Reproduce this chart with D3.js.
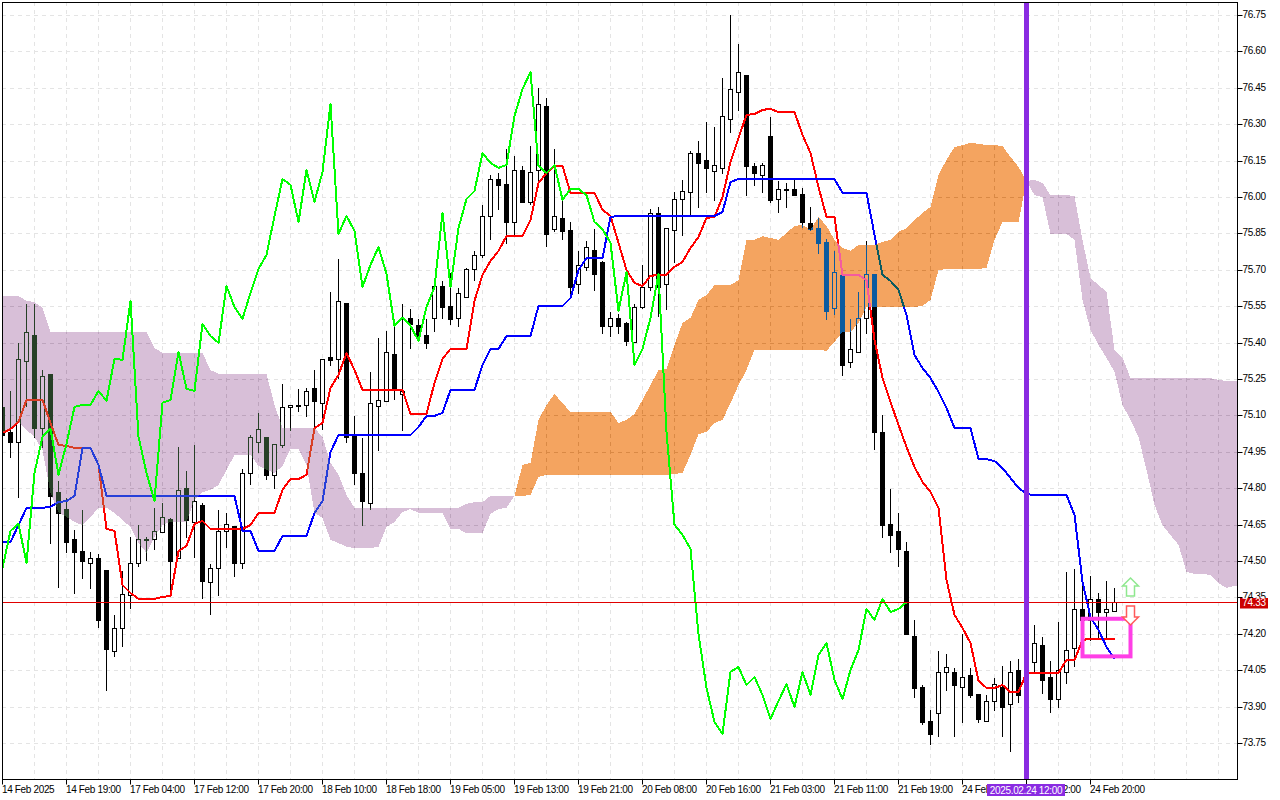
<!DOCTYPE html>
<html>
<head>
<meta charset="utf-8">
<script src="https://cdnjs.cloudflare.com/ajax/libs/d3/7.8.5/d3.min.js"></script>
<style>
html, body { margin: 0; padding: 0; background: #fff; }
svg { display: block; }
text { font-family: "Liberation Sans", Arial, sans-serif; font-size: 10px; letter-spacing: -0.35px; fill: #000; }
</style>
</head>
<body>
<svg id="chart" width="1280" height="800"></svg>
<script>
// hourly candles
var opens = [75.135,75.032,74.991,75.325,75.432,75.049,75.271,74.785,74.715,74.591,74.542,74.492,74.513,74.464,74.129,74.224,74.360,74.492,74.587,74.591,
  74.620,74.674,74.513,74.801,74.661,74.731,74.414,74.471,74.624,74.645,74.492,74.863,74.991,75.012,74.855,74.979,75.135,75.139,75.143,75.214,
  75.152,75.341,75.333,75.564,75.016,74.863,74.740,75.139,75.160,75.354,75.189,75.502,75.473,75.432,75.502,75.633,75.551,75.502,75.588,75.704,
  75.761,75.922,76.074,76.054,75.897,76.111,75.980,76.111,76.376,75.868,75.914,75.864,75.642,75.712,75.782,75.732,75.469,75.502,75.481,75.403,
  75.547,75.629,75.934,75.642,75.864,75.992,76.021,76.181,76.153,76.107,76.120,76.322,76.433,76.503,76.128,76.091,76.252,75.992,76.029,76.033,
  76.012,75.893,75.872,75.815,75.543,75.679,75.321,75.362,75.502,75.683,75.032,74.653,74.624,74.542,74.191,73.981,73.841,73.874,74.043,74.043,
  73.981,74.030,73.952,73.841,73.923,73.981,73.911,74.051,74.010,74.084,74.154,74.022,73.931,74.043,74.142,74.302,74.257,74.343,74.290,74.294];
var highs = [75.185,75.205,75.403,75.564,75.564,75.292,75.271,74.834,74.764,74.633,74.715,74.542,74.534,74.464,74.281,74.464,74.604,74.653,74.604,74.723,
  74.744,74.682,74.974,74.875,74.983,74.744,74.492,74.715,74.703,74.645,74.884,75.024,75.115,75.012,74.983,75.234,75.143,75.214,75.218,75.292,
  75.333,75.613,75.749,75.564,75.102,75.012,75.284,75.423,75.452,75.473,75.564,75.543,75.502,75.502,75.666,75.658,75.691,75.629,75.712,75.782,
  75.971,76.095,76.103,76.202,76.173,76.132,76.215,76.454,76.412,76.202,75.988,75.901,75.782,75.823,75.872,75.741,75.531,75.522,75.489,75.564,
  75.724,75.955,75.963,75.872,76.025,76.074,76.194,76.235,76.313,76.293,76.495,76.754,76.635,76.503,76.144,76.144,76.334,76.070,76.062,76.082,
  76.041,75.963,75.918,75.831,75.782,75.712,75.502,75.613,75.823,75.683,75.106,74.801,74.703,74.583,74.261,73.993,73.890,74.133,74.121,74.063,
  74.203,74.063,73.952,73.952,74.022,74.071,74.092,74.100,74.175,74.240,74.191,74.092,74.253,74.459,74.471,74.451,74.443,74.372,74.422,74.393];
var lows = [74.979,74.929,74.764,75.139,75.012,74.970,74.575,74.394,74.538,74.369,74.431,74.389,74.228,73.968,74.108,74.149,74.306,74.480,74.505,74.550,
  74.620,74.372,74.513,74.600,74.517,74.348,74.281,74.360,74.558,74.439,74.471,74.818,74.950,74.838,74.801,74.970,75.040,75.119,75.098,75.049,
  75.045,75.308,75.255,74.991,74.818,74.649,74.715,74.958,75.160,75.168,75.040,75.378,75.411,75.378,75.448,75.502,75.477,75.469,75.588,75.658,
  75.753,75.827,75.951,75.811,75.848,75.980,75.971,76.070,75.799,75.860,75.827,75.596,75.605,75.699,75.617,75.440,75.427,75.440,75.390,75.403,
  75.543,75.617,75.510,75.539,75.732,75.844,75.930,75.959,76.021,75.988,76.099,76.268,76.359,76.009,76.050,76.021,75.980,75.938,75.959,76.008,
  75.877,75.864,75.770,75.498,75.518,75.267,75.300,75.362,75.440,74.962,74.600,74.538,74.480,74.199,73.940,73.828,73.746,73.779,73.968,73.779,
  73.837,73.940,73.837,73.841,73.886,73.779,73.717,73.919,73.968,74.043,73.956,73.878,73.898,73.997,74.067,74.175,74.175,74.183,74.187,74.294];
var closes = [75.020,74.991,75.333,75.444,75.049,75.263,74.768,74.698,74.579,74.538,74.501,74.513,74.257,74.137,74.224,74.365,74.492,74.591,74.591,74.624,
  74.682,74.501,74.793,74.670,74.748,74.418,74.471,74.624,74.653,74.492,74.863,75.012,75.045,74.855,74.983,75.135,75.143,75.143,75.201,75.160,
  75.333,75.329,75.572,75.012,74.863,74.748,75.152,75.164,75.362,75.209,75.201,75.477,75.427,75.399,75.633,75.547,75.498,75.605,75.704,75.761,
  75.922,76.074,76.050,75.897,76.111,75.980,76.103,76.384,75.848,75.922,75.860,75.629,75.720,75.794,75.683,75.469,75.502,75.469,75.407,75.547,
  75.629,75.934,75.629,75.872,75.992,76.025,76.181,76.140,76.120,76.132,76.334,76.445,76.515,76.128,76.099,76.132,75.988,76.033,76.033,76.008,
  75.897,75.868,75.811,75.531,75.691,75.308,75.374,75.502,75.683,75.032,74.649,74.608,74.550,74.199,73.977,73.837,73.787,74.043,74.063,73.989,
  74.022,73.948,73.849,73.923,73.993,73.898,74.043,73.948,74.113,74.162,74.010,73.931,74.051,74.133,74.302,74.257,74.343,74.290,74.302,74.330];

// ichimoku lines
var tenkan = [75.028,75.044,75.073,75.164,75.164,75.164,75.069,74.978,74.974,74.966,74.966,74.966,74.896,74.632,74.624,74.401,74.368,74.344,74.344,74.344,
  74.352,74.356,74.541,74.562,74.653,74.665,74.632,74.632,74.632,74.632,74.632,74.648,74.698,74.698,74.698,74.793,74.838,74.838,74.855,75.048,
  75.069,75.213,75.267,75.357,75.287,75.205,75.205,75.205,75.205,75.205,75.205,75.106,75.106,75.106,75.234,75.333,75.374,75.374,75.374,75.572,
  75.679,75.736,75.778,75.839,75.839,75.839,75.905,76.058,76.099,76.128,76.128,76.017,76.017,76.017,76.017,75.947,75.922,75.811,75.699,75.646,
  75.633,75.675,75.679,75.679,75.712,75.732,75.790,75.835,75.914,75.918,76.000,76.144,76.243,76.338,76.342,76.359,76.363,76.350,76.350,76.350,
  76.256,76.181,76.041,75.918,75.918,75.679,75.679,75.679,75.658,75.411,75.254,75.155,75.061,74.970,74.887,74.826,74.784,74.719,74.422,74.278,
  74.224,74.162,74.006,73.977,73.977,73.989,73.960,73.960,74.039,74.039,74.039,74.039,74.039,74.092,74.092,74.175,74.179,74.179,74.179,74.179];
var kijun = [74.578,74.578,74.648,74.719,74.719,74.719,74.723,74.743,74.747,74.768,74.966,74.966,74.896,74.768,74.768,74.768,74.768,74.768,74.768,74.768,
  74.768,74.768,74.768,74.768,74.768,74.768,74.768,74.768,74.768,74.768,74.624,74.624,74.541,74.541,74.541,74.603,74.603,74.603,74.603,74.698,
  74.747,74.949,75.019,75.019,75.019,75.019,75.019,75.019,75.019,75.019,75.019,75.019,75.052,75.098,75.098,75.110,75.205,75.205,75.205,75.205,
  75.308,75.374,75.374,75.427,75.427,75.427,75.427,75.551,75.551,75.551,75.551,75.584,75.699,75.749,75.749,75.749,75.918,75.922,75.922,75.922,
  75.922,75.922,75.922,75.922,75.922,75.922,75.922,75.922,75.922,75.922,75.938,76.062,76.074,76.074,76.074,76.074,76.074,76.074,76.074,76.074,
  76.074,76.074,76.074,76.074,76.074,76.017,76.017,76.017,76.017,75.844,75.679,75.654,75.617,75.514,75.349,75.295,75.254,75.197,75.131,75.048,
  75.048,75.048,74.920,74.920,74.912,74.883,74.842,74.801,74.776,74.772,74.772,74.772,74.772,74.772,74.690,74.414,74.269,74.216,74.146,74.096];
var senkouA = [75.028,75.048,75.073,75.040,75.011,74.957,74.780,74.702,74.681,74.661,74.648,74.681,74.719,74.719,74.698,74.669,74.640,74.574,74.533,74.599,
  74.648,74.661,74.661,74.661,74.752,74.784,74.793,74.813,74.875,74.937,74.937,74.937,74.892,74.875,74.863,74.892,74.962,74.962,74.896,74.698,
  74.677,74.587,74.574,74.558,74.554,74.554,74.554,74.558,74.640,74.661,74.702,74.714,74.698,74.698,74.698,74.698,74.632,74.632,74.615,74.615,
  74.615,74.694,74.714,74.719,74.768,74.896,74.904,75.081,75.143,75.188,75.151,75.114,75.114,75.114,75.114,75.114,75.114,75.069,75.081,75.106,
  75.164,75.225,75.287,75.291,75.390,75.481,75.502,75.576,75.596,75.637,75.637,75.637,75.658,75.823,75.823,75.839,75.831,75.823,75.852,75.881,
  75.885,75.864,75.918,75.881,75.823,75.790,75.778,75.802,75.802,75.802,75.815,75.823,75.856,75.872,75.905,75.934,75.959,76.091,76.153,76.206,
  76.214,76.223,76.219,76.214,76.214,76.210,76.165,76.124,76.066,76.008,76.000,75.848,75.848,75.848,75.823,75.576,75.452,75.390,75.337,75.279,
  75.143,75.081,75.011,74.875,74.731,74.648,74.607,74.566,74.455,74.447,74.447,74.442,74.409,74.389,74.397,74.401];
var senkouB = [75.592,75.592,75.592,75.572,75.567,75.543,75.444,75.444,75.444,75.444,75.444,75.444,75.444,75.444,75.444,75.444,75.444,75.444,75.444,75.378,
  75.357,75.357,75.357,75.357,75.357,75.357,75.287,75.271,75.271,75.271,75.271,75.271,75.271,75.271,75.143,75.048,75.048,75.048,75.048,75.048,
  75.011,74.904,74.855,74.772,74.719,74.719,74.719,74.719,74.719,74.719,74.719,74.719,74.719,74.719,74.719,74.719,74.719,74.719,74.735,74.743,
  74.743,74.768,74.768,74.768,74.768,74.768,74.772,74.846,74.855,74.855,74.855,74.855,74.855,74.855,74.855,74.855,74.855,74.855,74.855,74.855,
  74.855,74.855,74.855,74.855,74.859,74.863,74.937,75.023,75.032,75.069,75.081,75.151,75.225,75.287,75.370,75.370,75.370,75.370,75.370,75.370,
  75.370,75.370,75.370,75.366,75.403,75.444,75.444,75.481,75.547,75.547,75.547,75.547,75.547,75.547,75.547,75.551,75.576,75.699,75.703,75.703,
  75.703,75.703,75.703,75.708,75.823,75.897,75.897,75.897,76.066,76.070,76.058,76.008,76.008,76.008,76.004,75.823,75.666,75.637,75.609,75.370,
  75.337,75.254,75.254,75.254,75.254,75.254,75.254,75.254,75.254,75.254,75.254,75.254,75.246,75.242,75.242,75.242];
var chikou = closes.slice(26);

var priceTicks = [76.75,76.60,76.45,76.30,76.15,76.00,75.85,75.70,75.55,75.40,75.25,75.10,74.95,74.80,74.65,74.50,74.35,74.20,74.05,73.90,73.75];
var timeLabels = ["14 Feb 2025","14 Feb 19:00","17 Feb 04:00","17 Feb 12:00","17 Feb 20:00","18 Feb 10:00","18 Feb 18:00","19 Feb 05:00","19 Feb 13:00",
  "19 Feb 21:00","20 Feb 08:00","20 Feb 16:00","21 Feb 03:00","21 Feb 11:00","21 Feb 19:00","24 Feb 04:00","24 Feb 12:00","24 Feb 20:00"];

var lastPrice = 74.33;
var markerBar = 128, markerLabel = "2025.02.24 12:00";
var boxBars = [135, 141], boxPrices = [74.262, 74.107];
var arrowBar = 141, upArrowPrices = [74.430, 74.356], downArrowPrices = [74.315, 74.236];

var svg = d3.select("#chart");
var left = 2, right = 1237, top_ = 2, bottom = 779;

var x = d3.scaleLinear().domain([0, 155]).range([2.5, 1242.5]);
var y = d3.scaleLinear().domain([73.75, 76.75]).range([743, 15]);
var py = function (v) { return Math.round(y(v)) + 0.5; };
var bars = d3.range(closes.length);

svg.append("clipPath").attr("id", "plot").append("rect")
  .attr("x", left).attr("y", top_).attr("width", right - left).attr("height", bottom - top_);

svg.append("rect").attr("width", 1280).attr("height", 800).attr("fill", "#fff");
var g = svg.append("g").attr("clip-path", "url(#plot)").style("isolation", "isolate");
g.append("rect").attr("x", left).attr("y", top_).attr("width", right - left).attr("height", bottom - top_).attr("fill", "#fff");

// grid, one vertical every 4 bars
var gridBars = d3.range(4, 156, 4);
g.selectAll(".gx").data(gridBars).enter().append("line")
  .attr("x1", function (d) { return x(d); }).attr("x2", function (d) { return x(d); })
  .attr("y1", top_).attr("y2", bottom)
  .attr("stroke", "#e4e4e4").attr("stroke-dasharray", "4,4").attr("shape-rendering", "crispEdges");
g.selectAll(".gy").data(priceTicks).enter().append("line")
  .attr("x1", left).attr("x2", right)
  .attr("y1", py).attr("y2", py)
  .attr("stroke", "#e4e4e4").attr("stroke-dasharray", "4,4").attr("shape-rendering", "crispEdges");

// candles
g.selectAll(".wick").data(bars).enter().append("line")
  .attr("x1", function (i) { return x(i); }).attr("x2", function (i) { return x(i); })
  .attr("y1", function (i) { return py(highs[i]); }).attr("y2", function (i) { return py(lows[i]); })
  .attr("stroke", "#000").attr("shape-rendering", "crispEdges");
g.selectAll(".body").data(bars).enter().append("rect")
  .attr("x", function (i) { return x(i) - 2; })
  .attr("width", 4)
  .attr("y", function (i) { return py(Math.max(opens[i], closes[i])); })
  .attr("height", function (i) { return Math.abs(py(opens[i]) - py(closes[i])); })
  .attr("fill", function (i) { return closes[i] >= opens[i] ? "#fff" : "#000"; })
  .attr("stroke", "#000").attr("shape-rendering", "crispEdges");

var lineOf = function (values) {
  return d3.line().x(function (d, i) { return x(i); }).y(function (d) { return y(d); })(values);
};
var drawLine = function (values, color) {
  g.append("path").attr("d", lineOf(values)).attr("fill", "none")
    .attr("stroke", color).attr("stroke-width", 2).attr("stroke-linejoin", "round")
    .attr("shape-rendering", "crispEdges");
};
drawLine(tenkan, "#ff0000");
drawLine(kijun, "#0000ff");

// cloud: the terminal paints it xor style, so black under thistle comes out dark green.
// difference blend with the inverted colour gives the same thing
var cloud = function (test, color) {
  g.append("path")
    .attr("d", d3.area()
      .defined(function (d, i) { return test(senkouA[i], senkouB[i]); })
      .x(function (d, i) { return x(i); })
      .y0(function (d, i) { return y(senkouA[i]); })
      .y1(function (d, i) { return y(senkouB[i]); })(senkouA))
    .attr("fill", color).attr("shape-rendering", "crispEdges")
    .style("mix-blend-mode", "difference");
};
cloud(function (a, b) { return a <= b; }, "#274027"); // thistle
cloud(function (a, b) { return a >= b; }, "#0b5b9f"); // sandybrown

drawLine(chikou, "#00ff00");

// last price
g.append("line").attr("x1", left).attr("x2", right).attr("y1", py(lastPrice)).attr("y2", py(lastPrice))
  .attr("stroke", "#e00000").attr("shape-rendering", "crispEdges");

// box and signal arrows
g.append("rect")
  .attr("x", x(boxBars[0])).attr("y", y(boxPrices[0]))
  .attr("width", x(boxBars[1]) - x(boxBars[0])).attr("height", y(boxPrices[1]) - y(boxPrices[0]))
  .attr("fill", "none").attr("stroke", "#ff3fe6").attr("stroke-width", 4);

var ax = x(arrowBar);
var up = [[ax, y(upArrowPrices[0])], [ax + 8, y(upArrowPrices[0]) + 8], [ax + 4, y(upArrowPrices[0]) + 8], [ax + 4, y(upArrowPrices[1])],
  [ax - 4, y(upArrowPrices[1])], [ax - 4, y(upArrowPrices[0]) + 8], [ax - 8, y(upArrowPrices[0]) + 8]];
var down = [[ax - 4, y(downArrowPrices[0])], [ax + 4, y(downArrowPrices[0])], [ax + 4, y(downArrowPrices[1]) - 8], [ax + 8, y(downArrowPrices[1]) - 8],
  [ax, y(downArrowPrices[1])], [ax - 8, y(downArrowPrices[1]) - 8], [ax - 4, y(downArrowPrices[1]) - 8]];
g.append("path").attr("d", d3.line()(up) + "Z").attr("fill", "#fff").attr("stroke", "#8fe88f").attr("stroke-width", 1.5);
g.append("path").attr("d", d3.line()(down) + "Z").attr("fill", "#fff").attr("stroke", "#ff5a5a").attr("stroke-width", 1.5);

// vertical marker
g.append("line").attr("x1", x(markerBar)).attr("x2", x(markerBar)).attr("y1", top_).attr("y2", bottom)
  .attr("stroke", "#8a2be2").attr("stroke-width", 5).attr("shape-rendering", "crispEdges");

// frame
svg.append("rect").attr("x", left + 0.5).attr("y", top_ + 0.5).attr("width", right - left).attr("height", bottom - top_)
  .attr("fill", "none").attr("stroke", "#000").attr("shape-rendering", "crispEdges");

// axes
var yAxis = d3.axisRight(y).tickValues(priceTicks).tickSize(5).tickPadding(0).offset(0).tickFormat(d3.format(".2f"));
var yg = svg.append("g").attr("transform", "translate(" + (right + 0.5) + ",0)").call(yAxis);
yg.select(".domain").remove();
yg.selectAll(".tick").attr("transform", function (d) { return "translate(0," + py(d) + ")"; });
yg.selectAll("text").attr("dy", "0.22em");

var timeBars = timeLabels.map(function (d, i) { return i * 8; });
var xAxis = d3.axisBottom(x).tickValues(timeBars).tickSize(5).tickPadding(1).offset(0)
  .tickFormat(function (d) { return timeLabels[d / 8]; });
var xg = svg.append("g").attr("transform", "translate(0," + (bottom + 0.5) + ")").call(xAxis);
xg.select(".domain").remove();
xg.selectAll("text").attr("text-anchor", "start").attr("dx", "-0.5").attr("dy", "0.71em");

// tags on the axes
svg.append("rect").attr("x", 1240).attr("y", py(lastPrice) - 4.5).attr("width", 28).attr("height", 10.5).attr("fill", "#cc0000");
svg.append("text").attr("x", 1254).attr("y", py(lastPrice) + 3).attr("text-anchor", "middle").style("fill", "#fff").text(d3.format(".2f")(lastPrice));
svg.append("rect").attr("x", 987).attr("y", 784).attr("width", 78).attr("height", 12).attr("fill", "#8a2be2");
svg.append("text").attr("x", 1026).attr("y", 793.5).attr("text-anchor", "middle").style("fill", "#fff").text(markerLabel);
</script>
</body>
</html>
